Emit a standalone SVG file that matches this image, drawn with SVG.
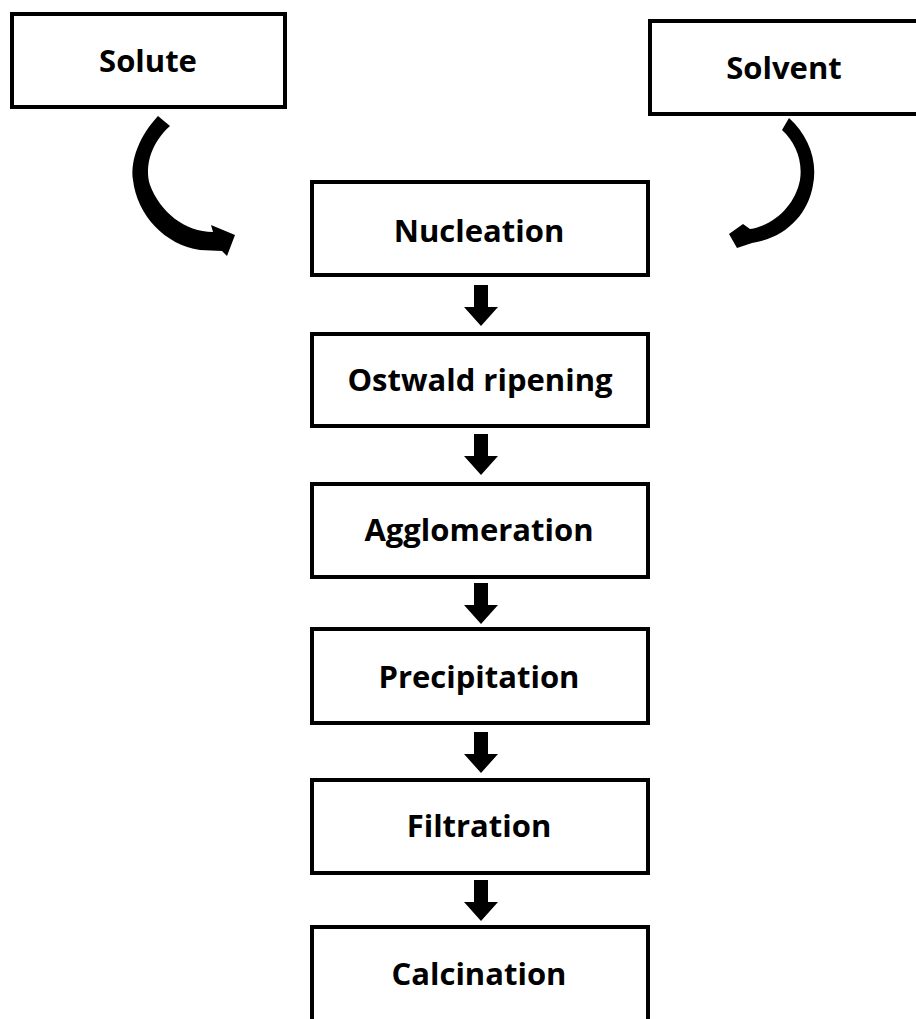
<svg xmlns="http://www.w3.org/2000/svg" width="916" height="1019" viewBox="0 0 916 1019">
<style>
.box{fill:#fff;stroke:#000;stroke-width:4}
.lbl{font-family:"Open Sans","Noto Sans",sans-serif;font-weight:bold;font-size:31px;fill:#000;text-anchor:middle}
.arr{fill:#000}
</style>
<defs>
<path id="down" d="M-7,0 H7 V22 H17 L0,41 L-17,22 H-7 Z"/>
</defs>
<rect width="916" height="1019" fill="#fff"/>
<g id="solute"><rect class="box" x="12" y="14" width="273" height="93"/><text class="lbl" x="148" y="72">Solute</text></g>
<g id="solvent"><rect class="box" x="650" y="21" width="280" height="93"/><text class="lbl" x="784" y="79">Solvent</text></g>
<g id="nucleation"><rect class="box" x="312" y="182" width="336" height="93"/><text class="lbl" x="479" y="242">Nucleation</text></g>
<g id="ostwald"><rect class="box" x="312" y="334" width="336" height="92"/><text class="lbl" x="480" y="391">Ostwald ripening</text></g>
<g id="agglomeration"><rect class="box" x="312" y="484" width="336" height="93"/><text class="lbl" x="479" y="541">Agglomeration</text></g>
<g id="precipitation"><rect class="box" x="312" y="629" width="336" height="94"/><text class="lbl" x="479" y="688">Precipitation</text></g>
<g id="filtration"><rect class="box" x="312" y="780" width="336" height="93"/><text class="lbl" x="479" y="837">Filtration</text></g>
<g id="calcination"><rect class="box" x="312" y="927" width="336" height="110"/><text class="lbl" x="479" y="985">Calcination</text></g>
<g id="connectors">
<path class="arr" d="M158,116 C140,135 130,160 133,180 C137,215 165,245 200,250 L222,251 L227,256 L235,235 L211,225 L213,232 C185,232 160,212 150,185 C144,165 152,142 170,126 Z"/>
<path class="arr" d="M789,118 C808,135 818,160 813,185 C808,215 785,238 752,243 L737,248 L729,234 L743,224 L750,229 C775,225 795,205 800,180 C803,160 795,142 782,130 Z"/>
<use href="#down" x="481" y="285"/>
<use href="#down" x="481" y="434"/>
<use href="#down" x="481" y="583"/>
<use href="#down" x="481" y="732"/>
<use href="#down" x="481" y="880"/>
</g>
</svg>
